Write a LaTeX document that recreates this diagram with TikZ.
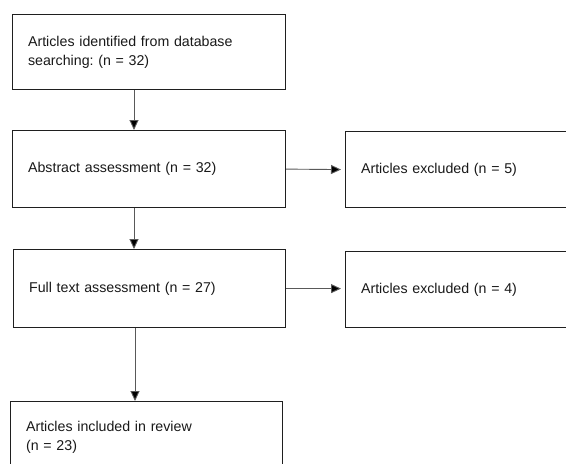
\documentclass[tikz,border=0pt]{standalone}
\usepackage{fontspec}
\setmainfont{Liberation Sans}
\usetikzlibrary{arrows.meta}
\frenchspacing
\begin{document}
\begin{tikzpicture}[x=1pt,y=-1pt,
  box/.style={draw=black!88, line width=1.2pt, anchor=north west, align=left,
    inner xsep=15.5pt, inner ysep=0pt, text=black!90,
    font=\fontsize{14.2}{19}\selectfont},
  conn/.style={draw=black!65, line width=0.9pt,
    -{Triangle[length=10pt,width=9pt,fill=black]}}]
\useasboundingbox (0,0) rectangle (566,464);
\clip (0,0) rectangle (566,464);
\fill[white] (0,0) rectangle (566,464);
\node[box, minimum width=273pt, minimum height=75pt, text width=242pt] (b1) at (12,14)
  {Articles identified from database\\searching: (n = 32)};
\node[box, minimum width=273pt, minimum height=77pt, text width=242pt] (b2) at (12,130)
  {Abstract assessment (n = 32)};
\node[box, minimum width=272pt, minimum height=78pt, text width=241pt] (b3) at (13,249)
  {Full text assessment (n = 27)};
\node[box, minimum width=272pt, minimum height=72pt, text width=241pt] (b4) at (10,401)
  {Articles included in review\\(n = 23)};
\node[box, minimum width=250pt, minimum height=76pt, text width=219pt] (e1) at (345,131)
  {Articles excluded (n = 5)};
\node[box, minimum width=250pt, minimum height=76pt, text width=219pt] (e2) at (345,251)
  {Articles excluded (n = 4)};
\coordinate (v1) at (134,0);
\coordinate (v2) at (135,0);
\draw[conn] (b1.south -| v1) -- (b2.north -| v1);
\draw[conn] (b2.south -| v1) -- (b3.north -| v1);
\draw[conn] (b3.south -| v2) -- (b4.north -| v2);
\draw[conn, shorten >=4pt] (b2.east) -- (e1.west);
\draw[conn, shorten >=4pt] (b3.east) -- (b3.east -| e2.west);
\end{tikzpicture}
\end{document}
